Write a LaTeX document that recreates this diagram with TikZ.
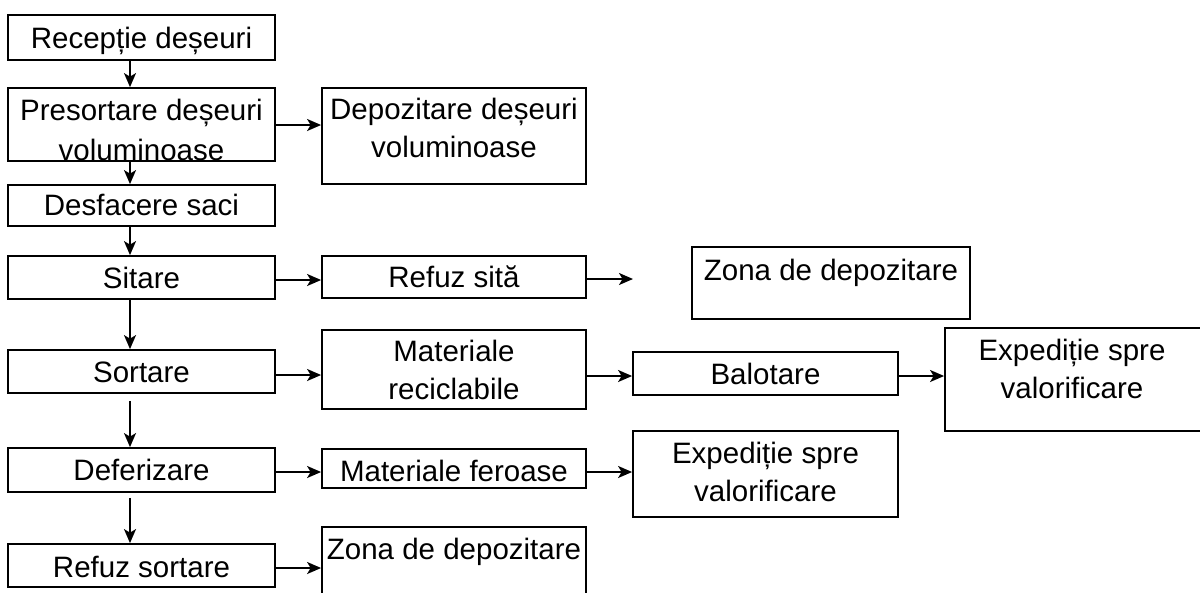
\documentclass[tikz,border=0pt]{standalone}
\usepackage{fontspec}
\setmainfont{Liberation Sans}
\usetikzlibrary{arrows.meta,fit}
\tikzset{
  box/.style={draw, line width=1.8pt, inner sep=0pt, rectangle},
  txt/.style={inner sep=0pt, anchor=base, align=center, font=\fontsize{29.5}{38}\selectfont},
  arr/.style={line width=1.8pt, -{Stealth[length=14pt,width=12pt,inset=3.5pt]}}
}
\begin{document}
\begin{tikzpicture}[x=1pt,y=-1pt]
\useasboundingbox (0,0) rectangle (1200,592);
% left column
\node[box, fit={(8,15)(275,60)}] (b1) {};
\node[txt] (t1) at (141.5,48) {Recepție deșeuri};
\node[box, fit={(8,88)(275,161)}] (b2) {};
\node[txt, font=\fontsize{29.5}{40}\selectfont] (t2) at (141.5,160) {Presortare deșeuri\\voluminoase};
\node[box, fit={(8,185)(275,226)}] (b3) {};
\node[txt] (t3) at (141.5,215) {Desfacere saci};
\node[box, fit={(8,256)(275,299)}] (b4) {};
\node[txt] (t4) at (141.5,288) {Sitare};
\node[box, fit={(8,350)(275,393)}] (b5) {};
\node[txt] (t5) at (141.5,382) {Sortare};
\node[box, fit={(8,448)(275,492)}] (b6) {};
\node[txt] (t6) at (141.5,480) {Deferizare};
\node[box, fit={(8,544)(275,587)}] (b7) {};
\node[txt] (t7) at (141.5,577) {Refuz sortare};
% middle column
\node[box, fit={(322,88)(586,184)}] (c1) {};
\node[txt] (u1) at (454,157) {Depozitare deșeuri\\voluminoase};
\node[box, fit={(322,256)(586,298)}] (c2) {};
\node[txt] (u2) at (454,287) {Refuz sită};
\node[box, fit={(322,330)(586,409)}] (c3) {};
\node[txt] (u3) at (454,399) {Materiale\\reciclabile};
\node[box, fit={(322,449)(586,488)}] (c4) {};
\node[txt] (u4) at (454,481) {Materiale feroase};
\node[box, fit={(322,527)(586,610)}] (c5) {};
\node[txt] (u5) at (454,559) {Zona de depozitare};
% right columns
\node[box, fit={(692,247)(970,319)}] (d1) {};
\node[txt] (v1) at (831,280) {Zona de depozitare};
\node[box, fit={(633,352)(898,395)}] (d2) {};
\node[txt] (v2) at (765.5,384) {Balotare};
\node[box, fit={(633,431)(898,517)}] (d3) {};
\node[txt] (v3) at (765.5,501) {Expediție spre\\valorificare};
\node[box, fit={(945,328)(1210,431)}] (e1) {};
\node[txt] (w1) at (1072,398) {Expediție spre\\valorificare};
\coordinate (free) at (633,279);
% vertical connectors
\draw[arr] (b1.south -| 130,0) -- (b2.north -| 130,0);
\draw[arr] (b2.south -| 130,0) -- (b3.north -| 130,0);
\draw[arr] (b3.south -| 130,0) -- (b4.north -| 130,0);
\draw[arr] (b4.south -| 130,0) -- (b5.north -| 130,0);
\draw[arr, shorten <=7pt] (b5.south -| 130,0) -- (b6.north -| 130,0);
\draw[arr, shorten <=5pt] (b6.south -| 130,0) -- (b7.north -| 130,0);
% horizontal connectors
\draw[arr] (b2.east |- 0,125) -- (c1.west |- 0,125);
\draw[arr] (b4.east |- 0,280) -- (c2.west |- 0,280);
\draw[arr] (c2.east |- 0,279) -- (free);
\draw[arr] (b5.east |- 0,375) -- (c3.west |- 0,375);
\draw[arr] (c3.east |- 0,376) -- (d2.west |- 0,376);
\draw[arr] (d2.east |- 0,376) -- (e1.west |- 0,376);
\draw[arr] (b6.east |- 0,472) -- (c4.west |- 0,472);
\draw[arr] (c4.east |- 0,472) -- (d3.west |- 0,472);
\draw[arr] (b7.east |- 0,568) -- (c5.west |- 0,568);
\end{tikzpicture}
\end{document}
